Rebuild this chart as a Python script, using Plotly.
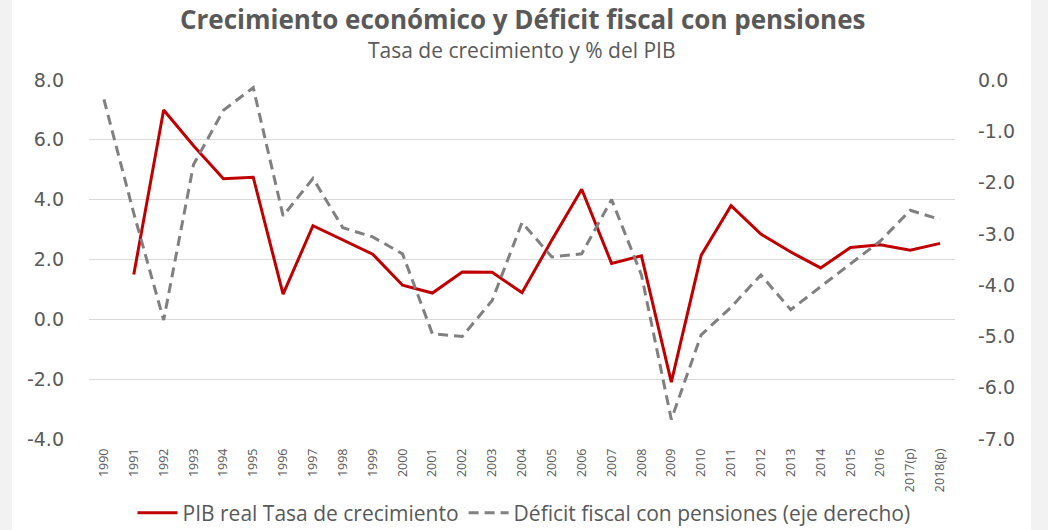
import plotly.graph_objects as go

years = ["1990", "1991", "1992", "1993", "1994", "1995", "1996", "1997", "1998", "1999",
         "2000", "2001", "2002", "2003", "2004", "2005", "2006", "2007", "2008", "2009",
         "2010", "2011", "2012", "2013", "2014", "2015", "2016", "2017(p)", "2018(p)"]

# Real GDP growth rate (%), left axis
pib_growth = [None, 1.5, 7.0, 5.8, 4.7, 4.75, 0.84, 3.13, 2.65, 2.18,
              1.14, 0.88, 1.58, 1.57, 0.89, 2.65, 4.35, 1.87, 2.12, -2.1,
              2.14, 3.8, 2.85, 2.25, 1.72, 2.4, 2.49, 2.31, 2.54]

# Fiscal deficit including pensions (% of GDP), right axis
deficit = [-0.38, -2.6, -4.68, -1.65, -0.59, -0.15, -2.65, -1.92, -2.88, -3.06,
           -3.39, -4.95, -5.0, -4.3, -2.78, -3.45, -3.39, -2.33, -3.8, -6.62,
           -4.97, -4.43, -3.8, -4.48, -4.03, -3.58, -3.14, -2.54, -2.72]

left_ticks = [8, 6, 4, 2, 0, -2, -4]
right_ticks = [0, -1, -2, -3, -4, -5, -6, -7]


def fmt(v):
    # one decimal, plain hyphen for negatives
    return f"{v:.1f}".replace("\u2212", "-")


TEXT = "#595959"
FONT_NUM = "DejaVu Sans"
FONT_TXT = "Open Sans"

fig = go.Figure()
fig.add_trace(go.Scatter(
    x=years, y=pib_growth, name="PIB real Tasa de crecimiento",
    mode="lines", line=dict(color="#c00000", width=3), yaxis="y"))
fig.add_trace(go.Scatter(
    x=years, y=deficit, name="Déficit fiscal con pensiones (eje derecho)",
    mode="lines", line=dict(color="#808080", width=3, dash="10px,6px"), yaxis="y2"))

fig.update_layout(
    width=1048, height=530,
    margin=dict(l=89, r=93, t=80, b=91),
    paper_bgcolor="#f2f2f2", plot_bgcolor="rgba(0,0,0,0)",
    showlegend=True,
    legend=dict(orientation="h", xref="container", yref="container",
                x=0.5, xanchor="center", y=1 - 513 / 530, yanchor="middle",
                font=dict(family=FONT_TXT, size=21, color=TEXT),
                bgcolor="rgba(0,0,0,0)", traceorder="normal", itemwidth=40,
                tracegroupgap=0),
    annotations=[
        dict(text="<b>Crecimiento económico y Déficit fiscal con pensiones</b>",
             xref="paper", yref="paper", x=0.5, y=1, yshift=61, showarrow=False,
             xanchor="center", yanchor="middle",
             font=dict(family=FONT_TXT, size=26, color=TEXT)),
        dict(text="Tasa de crecimiento y % del PIB",
             xref="paper", yref="paper", x=0.5, y=1, yshift=30, showarrow=False,
             xanchor="center", yanchor="middle",
             font=dict(family=FONT_TXT, size=21, color=TEXT)),
    ],
    shapes=[
        dict(type="rect", xref="paper", yref="paper",
             x0=(12 - 89) / 866, x1=(1031 - 89) / 866, y0=-1, y1=2,
             fillcolor="white", line=dict(width=0), layer="below"),
    ],
    xaxis=dict(type="category", range=[-0.5, len(years) - 0.5], tickangle=-90,
               showgrid=False, showline=False, ticks="",
               tickfont=dict(family=FONT_TXT, size=12.5, color=TEXT),
               ticklabelstandoff=6, automargin=False),
    yaxis=dict(range=[-4, 8], tickvals=left_ticks,
               ticktext=[fmt(v) for v in left_ticks],
               showgrid=True, gridcolor="#d9d9d9", gridwidth=1, zeroline=False,
               showline=False, ticks="",
               tickfont=dict(family=FONT_NUM, size=19, color=TEXT),
               ticklabelstandoff=24, automargin=False),
    yaxis2=dict(range=[-7, 0], tickvals=right_ticks,
                ticktext=[fmt(v) for v in right_ticks],
                overlaying="y", side="right", showgrid=False, zeroline=False,
                showline=False, ticks="",
                tickfont=dict(family=FONT_NUM, size=19, color=TEXT),
                ticklabelstandoff=22, automargin=False),
)

fig.write_html("out.html")
